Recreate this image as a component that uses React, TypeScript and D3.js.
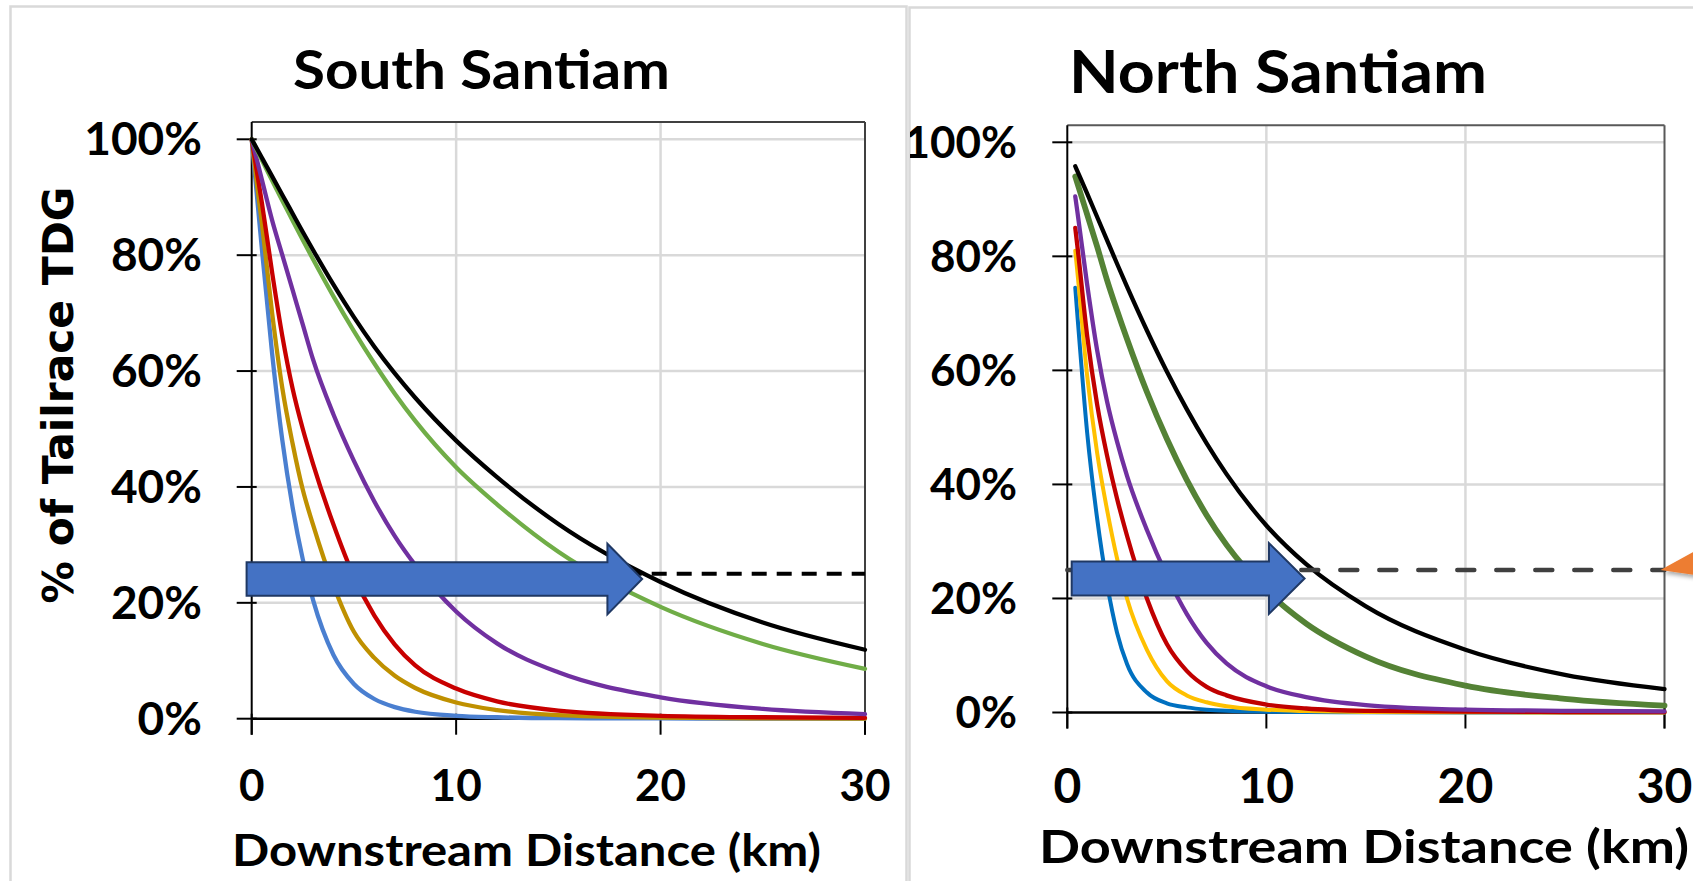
import React from 'react';
import * as d3 from 'd3';

const W = 1693;
const H = 881;

// South Santiam: distance (km) and % of tailrace TDG per series
const southKm = [0, 0.25, 0.5, 1, 1.5, 2, 2.5, 3, 4, 5, 6, 7, 8, 10, 12, 15, 20, 25, 30];
const southBlue = [100, 90.5, 81, 63, 48, 36.5, 27.5, 20.5, 11, 6, 3.4, 2, 1.2, 0.5, 0.25, 0.1, 0.05, 0, 0];
const southGold = [100, 92.5, 85.5, 70, 57, 47.5, 39.5, 33.5, 23, 15, 10.5, 7.4, 5.3, 2.8, 1.5, 0.6, 0.2, 0.05, 0];
const southRed = [100, 94.5, 89, 77, 66, 57, 50, 44, 33.5, 24.5, 17.8, 12.8, 9.2, 5.2, 3, 1.4, 0.5, 0.25, 0.15];
const southPurple = [100, 96.5, 93, 86, 80, 74, 68, 62, 52.5, 44.5, 37.5, 31.5, 26.5, 18.5, 13, 8, 3.7, 1.7, 0.8];
const southGreen = [100, 98.2, 96.4, 92.9, 89.4, 86, 82.6, 79.3, 72.9, 66.9, 61.3, 56.1, 51.4, 43.4, 37, 28.8, 19.3, 12.9, 8.6];
const southBlack = [100, 98.4, 96.8, 93.6, 90.4, 87.2, 84, 80.9, 74.9, 69.3, 64.2, 59.6, 55.4, 48, 41.7, 33.6, 23.6, 16.6, 11.9];

// North Santiam
const northKm = [0.4, 0.5, 1, 1.5, 2, 2.5, 3, 4, 5, 6, 7, 8, 10, 12, 15, 20, 25, 30];
const northBlue = [74.5, 70, 49, 34, 22.5, 14, 8.5, 3.5, 1.6, 0.9, 0.5, 0.3, 0.15, 0.08, 0.03, 0, 0, 0];
const northGold = [81, 77.5, 59, 45.5, 35.5, 27, 20, 11, 5.5, 3, 1.8, 1.1, 0.5, 0.25, 0.1, 0.05, 0, 0];
const northRed = [85, 82, 66, 54, 45, 37.5, 31, 20, 12, 7.3, 4.5, 3, 1.4, 0.7, 0.3, 0.15, 0.08, 0.05];
const northPurple = [90.5, 88, 75, 63.5, 54.5, 47.5, 41.5, 32, 24, 17.3, 12.2, 8.6, 4.6, 2.7, 1.3, 0.5, 0.3, 0.2];
const northGreen = [94, 92.9, 87.3, 81.7, 75.8, 70.5, 65.5, 56.2, 48, 40.8, 34.6, 29.4, 21.4, 15.6, 9.8, 4.7, 2.4, 1.2];
const northBlack = [95.8, 95, 91, 86.9, 82.8, 78.7, 74.7, 67, 59.8, 53.2, 47.2, 41.8, 32.8, 26, 18.6, 11, 6.6, 4.1];

const xTicks = [0, 10, 20, 30];
const yTicks = [0, 20, 40, 60, 80, 100];
const thresholdPct = 25;

// block arrow annotations: [start km, neck km, tip km, centre %, body half %, head half %]
const southArrow = [-0.25, 17.4, 19.1, 24.1, 2.9, 6.1];
const northArrow = [0.22, 10.13, 11.92, 23.5, 3.0, 6.2];

interface Series {
  values: number[];
  color: string;
  width: number;
}

interface PanelProps {
  title: string;
  km: number[];
  series: Series[];
  xRange: [number, number];
  yRange: [number, number];
  arrow: number[];
  dash: { color: string; width: number; pattern: string; cap: 'butt' | 'round' };
  frameColor: string;
  t: {
    titleX: number; titleY: number; titleSize: number; titleLen: number;
    yLabX: number; yLabSize: number;
    xLabY: number; xLabSize: number;
    axTitleX: number; axTitleY: number; axTitleSize: number; axTitleLen: number;
  };
}

const FONT = "Lato, 'Open Sans', sans-serif";

const Panel: React.FC<PanelProps> = (p) => {
  const x = d3.scaleLinear().domain([0, 30]).range(p.xRange);
  const y = d3.scaleLinear().domain([0, 100]).range(p.yRange);
  const line = d3
    .line<[number, number]>()
    .x((d) => x(d[0]))
    .y((d) => y(d[1]))
    .curve(d3.curveMonotoneX);

  const top = y(103);
  const x0 = x(0);
  const x30 = x(30);
  const yZero = y(0);

  const [aStart, aNeck, aTip, aMid, aBody, aHead] = p.arrow;
  const arrowPts = [
    [x(aStart), y(aMid + aBody)],
    [x(aNeck), y(aMid + aBody)],
    [x(aNeck), y(aMid + aHead)],
    [x(aTip), y(aMid)],
    [x(aNeck), y(aMid - aHead)],
    [x(aNeck), y(aMid - aBody)],
    [x(aStart), y(aMid - aBody)],
  ]
    .map((d) => d.join(','))
    .join(' ');

  return (
    <g>
      {/* gridlines */}
      {yTicks.filter((v) => v > 0).map((v) => (
        <line key={'gy' + v} x1={x0} x2={x30} y1={y(v)} y2={y(v)} stroke="#d9d9d9" strokeWidth={2.5} />
      ))}
      {xTicks.filter((v) => v > 0 && v < 30).map((v) => (
        <line key={'gx' + v} x1={x(v)} x2={x(v)} y1={top} y2={yZero} stroke="#d9d9d9" strokeWidth={2.5} />
      ))}
      {/* frame */}
      <line x1={x0} x2={x30} y1={top} y2={top} stroke={p.frameColor} strokeWidth={2} />
      <line x1={x30} x2={x30} y1={top} y2={yZero + 16} stroke={p.frameColor} strokeWidth={2} />
      <line x1={x0} x2={x0} y1={top} y2={yZero + 16} stroke="#000" strokeWidth={2} />
      <line x1={x0} x2={x30} y1={yZero} y2={yZero} stroke="#000" strokeWidth={2.5} />
      {yTicks.map((v) => (
        <line key={'ty' + v} x1={x0 - 15} x2={x0 + 5} y1={y(v)} y2={y(v)} stroke="#000" strokeWidth={2} />
      ))}
      {xTicks.map((v) => (
        <line key={'tx' + v} x1={x(v)} x2={x(v)} y1={yZero - 5} y2={yZero + 16} stroke="#000" strokeWidth={2} />
      ))}
      {/* curves */}
      {p.series.map((s, i) => (
        <path
          key={'s' + i}
          d={line(p.km.map((k, j) => [k, s.values[j]] as [number, number])) || ''}
          fill="none"
          stroke={s.color}
          strokeWidth={s.width}
          strokeLinejoin="round"
          strokeLinecap="round"
        />
      ))}
      {/* 25% threshold */}
      <line
        x1={x0}
        x2={x30}
        y1={y(thresholdPct)}
        y2={y(thresholdPct)}
        stroke={p.dash.color}
        strokeWidth={p.dash.width}
        strokeDasharray={p.dash.pattern}
        strokeLinecap={p.dash.cap}
      />
      <polygon points={arrowPts} fill="#4472C4" stroke="#1F3864" strokeWidth={2} strokeLinejoin="miter" />
      {/* labels */}
      {yTicks.map((v) => (
        <text
          key={'ly' + v}
          x={p.t.yLabX}
          y={y(v)}
          dy="0.35em"
          textAnchor="end"
          fontFamily={FONT}
          fontWeight={700}
          fontSize={p.t.yLabSize}
        >
          {v + '%'}
        </text>
      ))}
      {xTicks.map((v) => (
        <text
          key={'lx' + v}
          x={x(v)}
          y={p.t.xLabY}
          textAnchor="middle"
          fontFamily={FONT}
          fontWeight={700}
          fontSize={p.t.xLabSize}
        >
          {v}
        </text>
      ))}
      <text
        x={p.t.titleX}
        y={p.t.titleY}
        textAnchor="middle"
        fontFamily={FONT}
        fontWeight={700}
        fontSize={p.t.titleSize}
        textLength={p.t.titleLen}
        lengthAdjust="spacingAndGlyphs"
      >
        {p.title}
      </text>
      <text
        x={p.t.axTitleX}
        y={p.t.axTitleY}
        textAnchor="middle"
        fontFamily={FONT}
        fontWeight={700}
        fontSize={p.t.axTitleSize}
        textLength={p.t.axTitleLen}
        lengthAdjust="spacingAndGlyphs"
      >
        Downstream Distance (km)
      </text>
    </g>
  );
};

const App: React.FC = () => {
  const southSeries: Series[] = [
    { values: southBlue, color: '#4a7fd0', width: 4.3 },
    { values: southGold, color: '#BF9000', width: 4.3 },
    { values: southRed, color: '#C80000', width: 4.3 },
    { values: southPurple, color: '#7030A0', width: 4.3 },
    { values: southGreen, color: '#70AD47', width: 4.3 },
    { values: southBlack, color: '#000000', width: 4.3 },
  ];
  const northSeries: Series[] = [
    { values: northBlue, color: '#0070C0', width: 4 },
    { values: northGold, color: '#FFC000', width: 4 },
    { values: northRed, color: '#C00000', width: 4.3 },
    { values: northPurple, color: '#7030A0', width: 4.3 },
    { values: northGreen, color: '#548235', width: 5.8 },
    { values: northBlack, color: '#000000', width: 4.3 },
  ];

  // orange pointer at the right edge, anchored to the north panel threshold end
  const nx = d3.scaleLinear().domain([0, 30]).range([1067.3, 1664.5]);
  const ny = d3.scaleLinear().domain([0, 100]).range([712.5, 142.3]);
  const tipX = nx(30) - 4;
  const tipY = ny(thresholdPct);

  return (
    <svg width={W} height={H} style={{ position: 'absolute', left: 0, top: 0, background: '#fff' }}>
      <defs>
        <clipPath id="northClip">
          <rect x={910} y={0} width={800} height={H} />
        </clipPath>
        <filter id="shadow" x="-50%" y="-50%" width="200%" height="200%">
          <feDropShadow dx="2" dy="3" stdDeviation="2" floodColor="#000" floodOpacity="0.35" />
        </filter>
      </defs>
      <rect x={0} y={0} width={W} height={H} fill="#fff" />
      <rect x={10.5} y={6.5} width={896} height={H + 20} fill="none" stroke="#d9d9d9" strokeWidth={2.5} />
      <rect x={909.5} y={7.5} width={820} height={H + 20} fill="none" stroke="#d9d9d9" strokeWidth={2.5} />

      <Panel
        title="South Santiam"
        km={southKm}
        series={southSeries}
        xRange={[251.7, 865]}
        yRange={[718.7, 139.3]}
        arrow={southArrow}
        dash={{ color: '#000', width: 4, pattern: '15 10', cap: 'butt' }}
        frameColor="#404040"
        t={{
          titleX: 481.5, titleY: 89, titleSize: 54, titleLen: 377,
          yLabX: 202, yLabSize: 46,
          xLabY: 801, xLabSize: 44,
          axTitleX: 526.5, axTitleY: 866, axTitleSize: 43, axTitleLen: 589,
        }}
      />

      <g clipPath="url(#northClip)">
        <Panel
          title="North Santiam"
          km={northKm}
          series={northSeries}
          xRange={[1067.3, 1664.5]}
          yRange={[712.5, 142.3]}
          arrow={northArrow}
          dash={{ color: '#404040', width: 4.5, pattern: '17 22', cap: 'round' }}
          frameColor="#595959"
          t={{
            titleX: 1278, titleY: 93, titleSize: 60, titleLen: 418,
            yLabX: 1017, yLabSize: 44,
            xLabY: 803, xLabSize: 48,
            axTitleX: 1364, axTitleY: 863, axTitleSize: 46, axTitleLen: 650,
          }}
        />
      </g>

      <polygon
        points={`${tipX},${tipY} ${W + 2},${tipY - 19} ${W + 2},${tipY + 5}`}
        fill="#ED7D31"
        filter="url(#shadow)"
      />

      <text
        transform="translate(73,395) rotate(-90)"
        textAnchor="middle"
        fontFamily="'DejaVu Sans', Verdana, sans-serif"
        fontWeight={700}
        fontSize={43}
        textLength={417}
        lengthAdjust="spacingAndGlyphs"
      >
        % of Tailrace TDG
      </text>
    </svg>
  );
};

export default App;
